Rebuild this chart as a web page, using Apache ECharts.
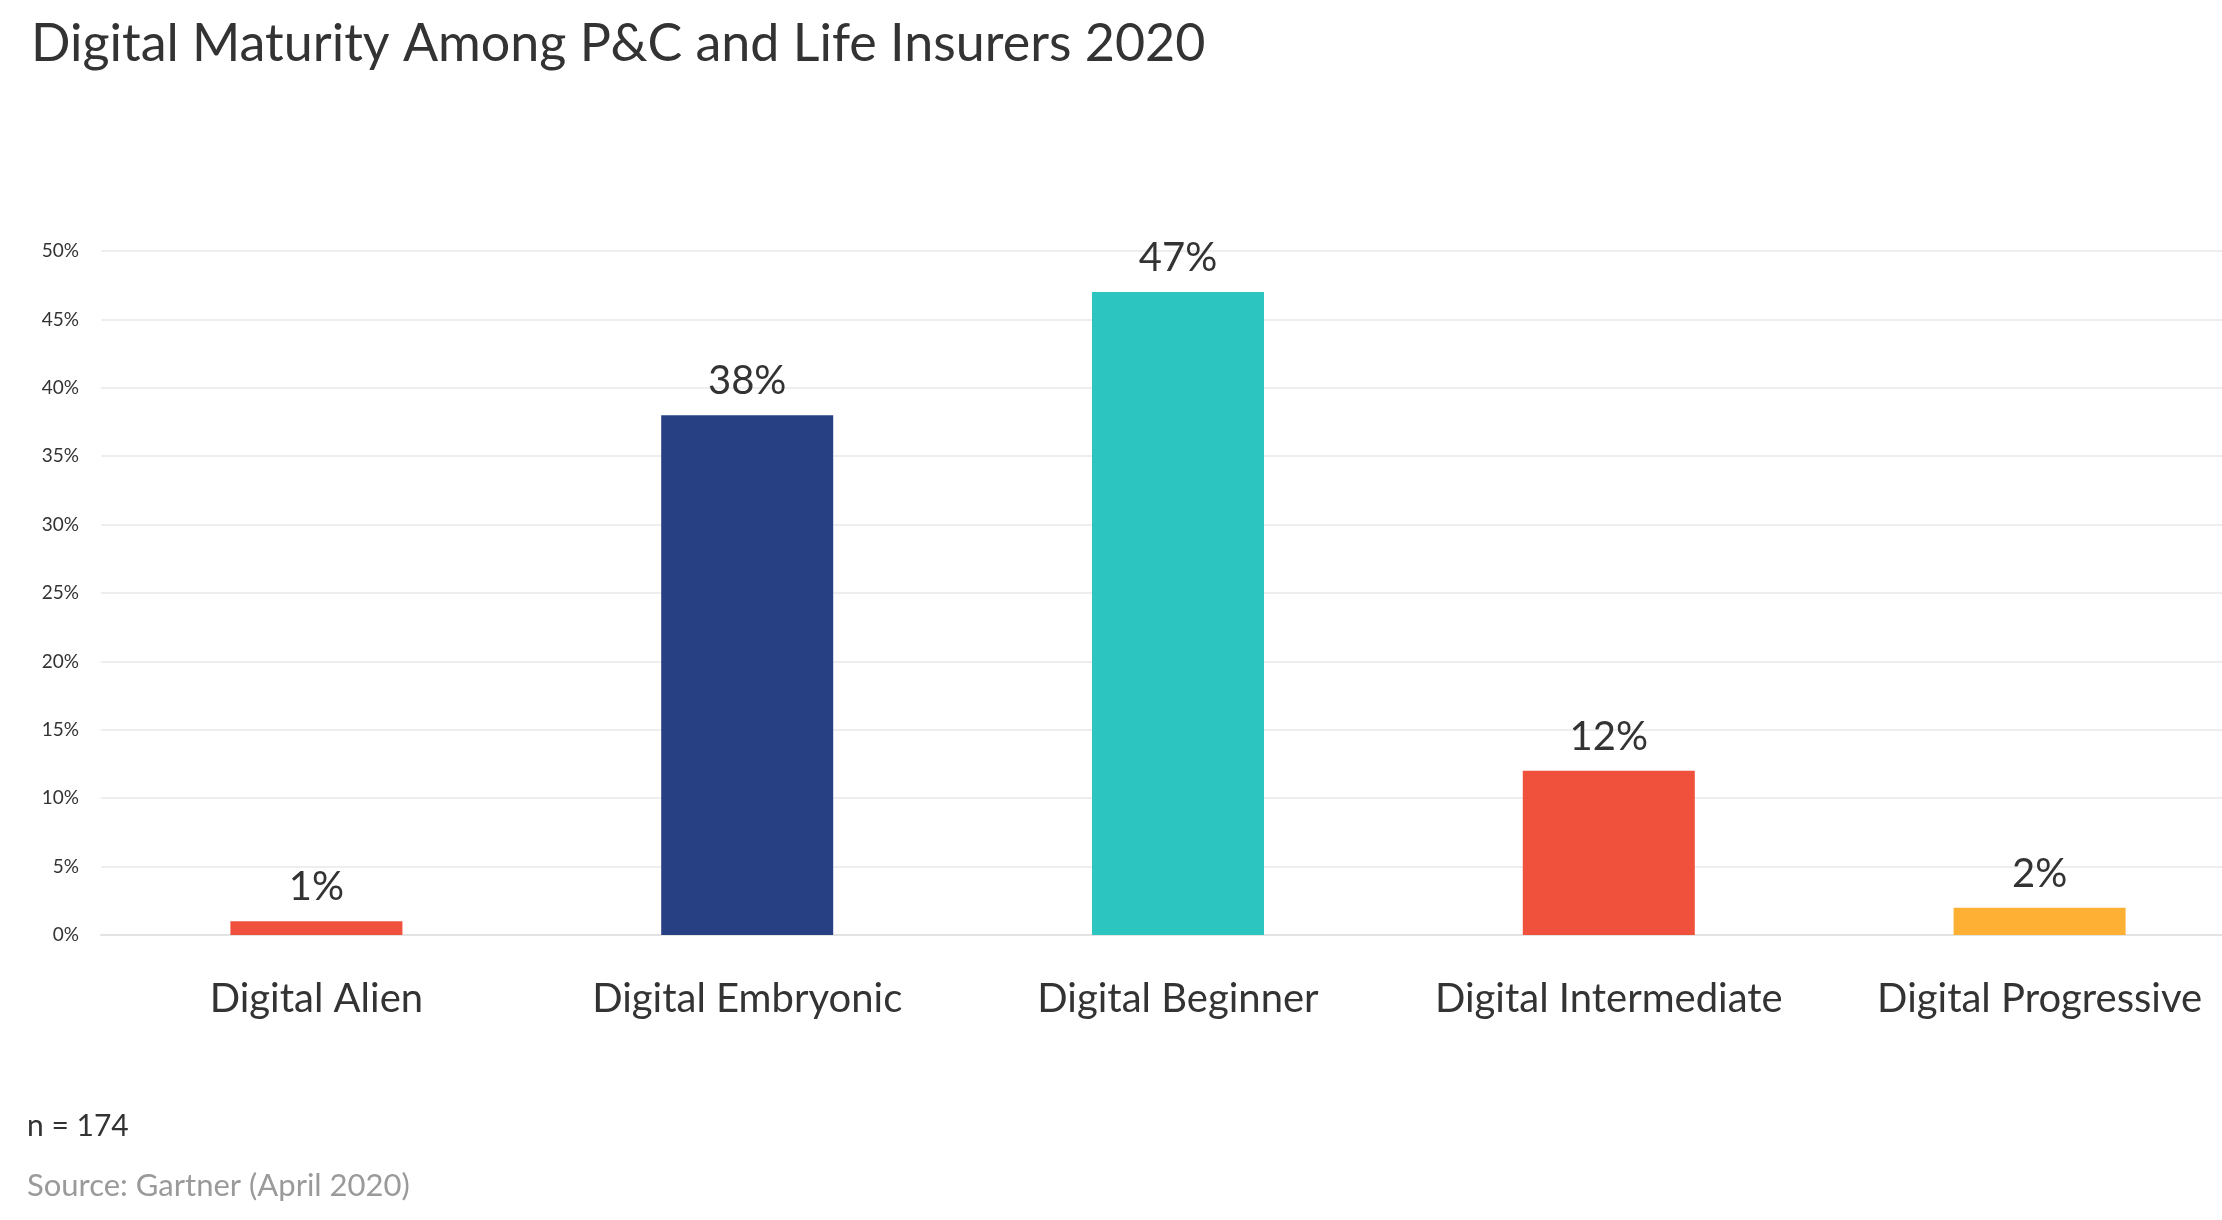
<!DOCTYPE html>
<html>
<head>
<meta charset="utf-8">
<title>Digital Maturity Among P&C and Life Insurers 2020</title>
<script src="https://cdn.jsdelivr.net/npm/echarts@6/dist/echarts.min.js"></script>
<style>
    html, body { margin: 0; padding: 0; background: #fff; }
    #charts { width: 2222px; height: 1220px; }
</style>
</head>
<body>
<div id="charts"></div>
<script>
    // data
    var categories = ['Digital Alien', 'Digital Embryonic', 'Digital Beginner', 'Digital Intermediate', 'Digital Progressive'];
    var shareValues = [1, 38, 47, 12, 2];
    var barColors = ['#F0513C', '#274084', '#2CC5C0', '#F0513C', '#FDB034'];
    var sampleNote = 'n = 174';
    var sourceNote = 'Source: Gartner (April 2020)';

    var font = 'Lato';
    var chart = echarts.init(document.getElementById('charts'));

    chart.setOption({
        animation: false,
        title: {
            text: 'Digital Maturity Among P&C and Life Insurers 2020',
            left: 26,
            top: 13,
            textStyle: {
                fontFamily: font,
                fontSize: 52,
                fontWeight: 'normal',
                color: '#333333'
            }
        },
        grid: {
            left: 101,
            width: 2154,
            top: 251,
            bottom: 285,
            containLabel: false,
            outerBoundsMode: 'none'
        },
        xAxis: {
            type: 'category',
            data: categories,
            axisLine: { lineStyle: { color: '#E3E3E3', width: 2 } },
            axisTick: { show: false },
            axisLabel: {
                interval: 0,
                margin: 44,
                fontFamily: font,
                fontSize: 40,
                color: '#333333'
            }
        },
        yAxis: {
            type: 'value',
            min: 0,
            max: 50,
            interval: 5,
            axisLine: { show: false },
            axisTick: { show: false },
            splitLine: { lineStyle: { color: '#E8E8E8', width: 1.5 } },
            axisLabel: {
                formatter: '{value}%',
                margin: 22,
                fontFamily: font,
                fontSize: 19,
                color: '#333333'
            }
        },
        series: [
            {
                name: 'share',
                type: 'bar',
                barWidth: 172,
                data: shareValues.map(function (v, i) {
                    return { value: v, itemStyle: { color: barColors[i] } };
                }),
                label: {
                    show: true,
                    position: 'top',
                    distance: 14,
                    formatter: '{c}%',
                    fontFamily: font,
                    fontSize: 40,
                    color: '#333333'
                }
            }
        ],
        graphic: [
            {
                type: 'text',
                left: 27,
                top: 1111,
                style: { text: sampleNote, font: '30px ' + font, fill: '#333333' }
            },
            {
                type: 'text',
                left: 27,
                top: 1170,
                style: { text: sourceNote, font: '31px ' + font, fill: '#9A9A9A' }
            }
        ]
    });
</script>
</body>
</html>
